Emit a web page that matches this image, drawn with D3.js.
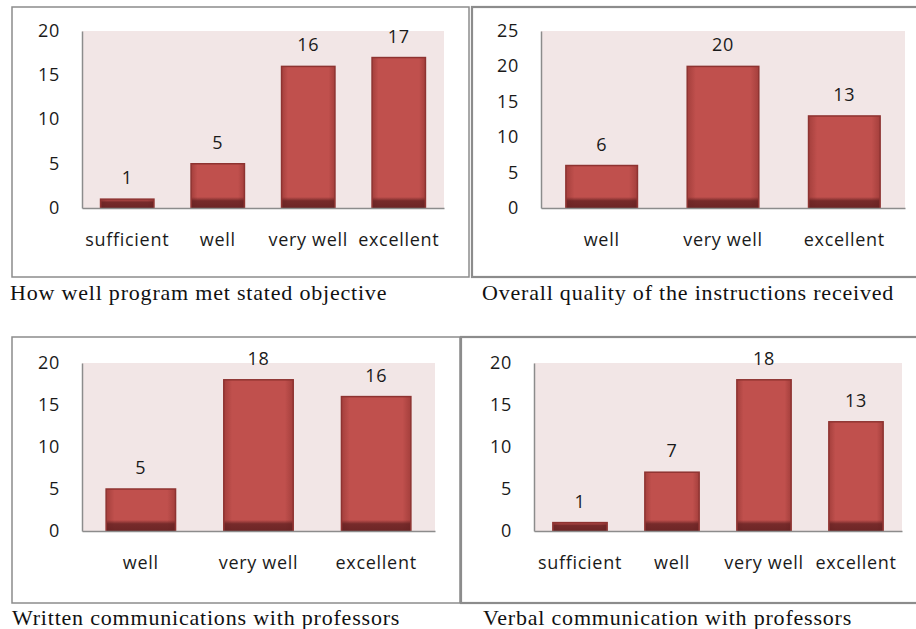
<!DOCTYPE html>
<html>
<head>
<meta charset="utf-8">
<script src="https://cdn.jsdelivr.net/npm/d3@7"></script>
<style>
  body { margin: 0; background: #fff; }
  svg { display: block; }
  .tick text { font-family: "Open Sans", sans-serif; font-size: 18px; letter-spacing: 0.7px; fill: #1a1a1a; }
  .vlabel { font-family: "Open Sans", sans-serif; font-size: 18px; letter-spacing: 0.7px; fill: #1a1a1a; }
  .caption { font-family: "Liberation Serif", "Times New Roman", serif; font-size: 22px; letter-spacing: 0.8px; fill: #111; }
</style>
</head>
<body>
<script>
"use strict";
// data, one set per chart
var cats1 = ["sufficient", "well", "very well", "excellent"];
var vals1 = [1, 5, 16, 17];
var ticks1 = [0, 5, 10, 15, 20];

var cats2 = ["well", "very well", "excellent"];
var vals2 = [6, 20, 13];
var ticks2 = [0, 5, 10, 15, 20, 25];

var cats3 = ["well", "very well", "excellent"];
var vals3 = [5, 18, 16];
var ticks3 = [0, 5, 10, 15, 20];

var cats4 = ["sufficient", "well", "very well", "excellent"];
var vals4 = [1, 7, 18, 13];
var ticks4 = [0, 5, 10, 15, 20];

var captions = [
  "How well program met stated objective",
  "Overall quality of the instructions received",
  "Written communications with professors",
  "Verbal communication with professors"
];

var W = 916, H = 629;
var svg = d3.select("body").append("svg").attr("width", W).attr("height", H);

var defs = svg.append("defs");
var shade = defs.append("linearGradient").attr("id", "shade")
  .attr("x1", 0).attr("y1", 0).attr("x2", 0).attr("y2", 1);
shade.append("stop").attr("offset", "0%").attr("stop-color", "#5e1e1f").attr("stop-opacity", 0);
shade.append("stop").attr("offset", "35%").attr("stop-color", "#5e1e1f").attr("stop-opacity", 0.75);
shade.append("stop").attr("offset", "100%").attr("stop-color", "#5e1e1f").attr("stop-opacity", 0.85);
var side = defs.append("linearGradient").attr("id", "side")
  .attr("x1", 0).attr("y1", 0).attr("x2", 1).attr("y2", 0);
side.append("stop").attr("offset", "0%").attr("stop-color", "#a43f3c");
side.append("stop").attr("offset", "12%").attr("stop-color", "#c0504d");
side.append("stop").attr("offset", "88%").attr("stop-color", "#c0504d");
side.append("stop").attr("offset", "100%").attr("stop-color", "#a43f3c");

// layout of each panel
var panels = [
  {cats: cats1, vals: vals1, ticks: ticks1, frame: [12, 7, 457, 270], plot: [82, 444, 31, 208], cap: [10, 300], pad: 0.41},
  {cats: cats2, vals: vals2, ticks: ticks2, frame: [472, 7, 460, 270], plot: [541, 905, 31, 208], cap: [482, 300], pad: 0.41},
  {cats: cats3, vals: vals3, ticks: ticks3, frame: [12, 337, 448, 266], plot: [82, 435, 363, 531], cap: [12, 625], pad: 0.41},
  {cats: cats4, vals: vals4, ticks: ticks4, frame: [461, 337, 470, 266], plot: [534, 902, 363, 531], cap: [483, 625], pad: 0.41}
];

panels.forEach(function(p, i) {
  var g = svg.append("g");
  var f = p.frame;
  g.append("rect")
    .attr("x", f[0]).attr("y", f[1]).attr("width", f[2]).attr("height", f[3])
    .attr("fill", "none").attr("stroke", "#8c8c8c").attr("stroke-width", i % 2 ? 2.2 : 1.5);

  var x = d3.scaleBand().domain(p.cats).range([p.plot[0], p.plot[1]]).paddingInner(p.pad).paddingOuter(p.pad / 2);
  var y = d3.scaleLinear().domain([0, d3.max(p.ticks)]).range([p.plot[3], p.plot[2]]);

  g.append("rect")
    .attr("x", p.plot[0]).attr("y", p.plot[2])
    .attr("width", p.plot[1] - p.plot[0]).attr("height", p.plot[3] - p.plot[2])
    .attr("fill", "#f2e6e6");

  var bars = g.selectAll("g.bar").data(p.vals).enter().append("g").attr("class", "bar");
  bars.append("rect")
    .attr("x", function(d, j) { return x(p.cats[j]); })
    .attr("y", function(d) { return y(d); })
    .attr("width", x.bandwidth())
    .attr("height", function(d) { return y(0) - y(d); })
    .attr("fill", "url(#side)")
    .attr("stroke", "#8e3331").attr("stroke-width", 1.5);
  bars.append("rect")
    .attr("x", function(d, j) { return x(p.cats[j]) + 0.75; })
    .attr("y", function(d) { return Math.max(y(d), y(0) - 11); })
    .attr("width", x.bandwidth() - 1.5)
    .attr("height", function(d) { return Math.min(y(0) - y(d), 11); })
    .attr("fill", "url(#shade)");
  bars.append("text").attr("class", "vlabel")
    .attr("x", function(d, j) { return x(p.cats[j]) + x.bandwidth() / 2; })
    .attr("y", function(d) { return y(d) - 15; })
    .attr("text-anchor", "middle")
    .text(function(d) { return d; });

  var ya = g.append("g").attr("transform", "translate(" + p.plot[0] + ",0)")
    .call(d3.axisLeft(y).tickValues(p.ticks).tickSize(0).tickPadding(22));
  ya.select(".domain").attr("stroke", "#8c8c8c").attr("stroke-width", 1.5);
  ya.selectAll(".tick text").attr("dy", "0.3em");

  var xa = g.append("g").attr("transform", "translate(0," + p.plot[3] + ")")
    .call(d3.axisBottom(x).tickSize(0).tickPadding(25));
  xa.select(".domain").attr("stroke", "#8c8c8c").attr("stroke-width", 1.5);

  g.append("text").attr("class", "caption")
    .attr("x", p.cap[0]).attr("y", p.cap[1])
    .text(captions[i]);
});
</script>
</body>
</html>
